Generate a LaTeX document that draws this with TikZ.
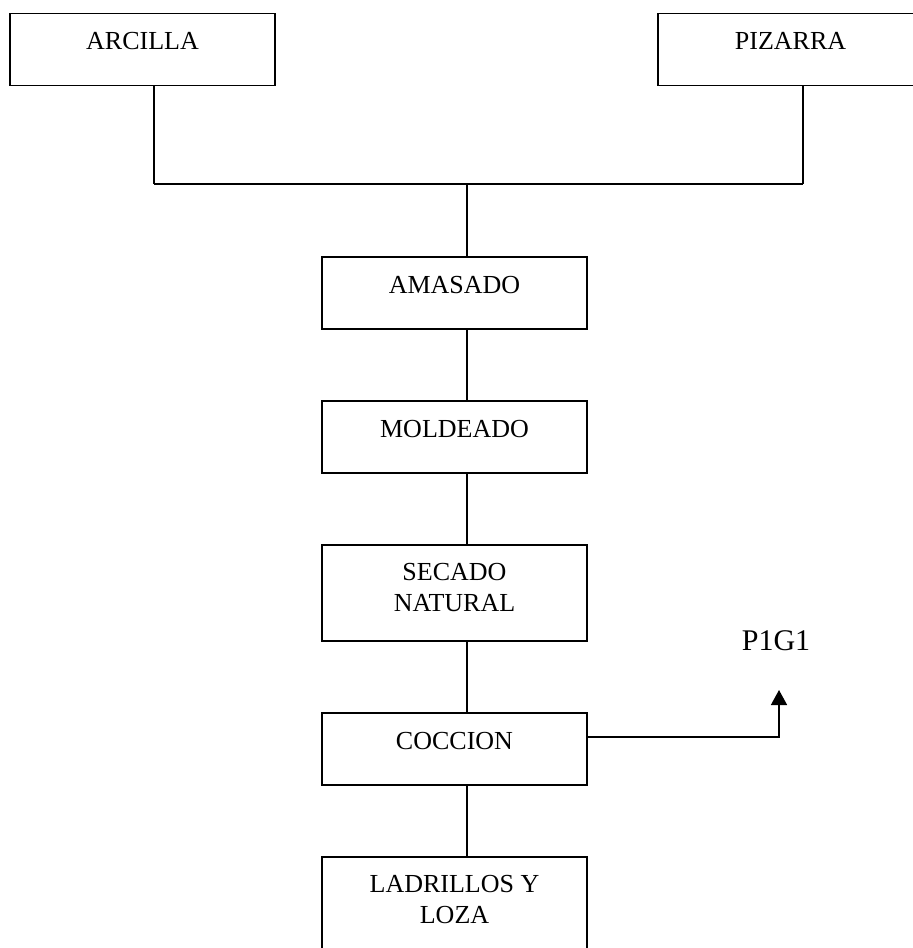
\documentclass[tikz,border=0pt]{standalone}
\usepackage{fontspec}
\setmainfont{Liberation Serif}
\usetikzlibrary{arrows.meta}

\tikzset{
  caja/.style={draw, line width=0.75pt, minimum width=132.5pt, minimum height=36pt,
    inner sep=0pt, font=\fontsize{13}{15.5}\selectfont, text height=8.6pt, text depth=8.4pt},
  caja doble/.style={caja, minimum height=48pt, align=center, text height=24.1pt, text depth=5.9pt},
  linea/.style={line width=0.75pt},
}

\begin{document}
\begin{tikzpicture}[x=0.5pt, y=-0.5pt]
  % Marco de la figura (en pixeles)
  \useasboundingbox (0,0) rectangle (913,948);

  % Eje vertical del proceso y puntos de union
  \coordinate (eje) at (467,0);
  \coordinate (union) at (467,184);
  \coordinate (izq) at (154,184);
  \coordinate (der) at (803,184);
  \coordinate (flecha) at (779,690);

  % Materias primas
  \node[caja] (arcilla) at (142.5,49.5) {ARCILLA};
  \node[caja] (pizarra) at (790.5,49.5) {PIZARRA};

  % Etapas del proceso
  \node[caja] (amasado) at (454.5,293) {AMASADO};
  \node[caja] (moldeado) at (454.5,437) {MOLDEADO};
  \node[caja doble] (secado) at (454.5,593) {SECADO\\NATURAL};
  \node[caja] (coccion) at (454.5,749) {COCCION};
  \node[caja doble] (ladrillos) at (454.5,905) {LADRILLOS Y\\LOZA};

  % Salida lateral
  \node[font=\fontsize{15}{18}\selectfont, text height=10.3pt, text depth=0pt, inner sep=0pt] (p1g1) at (776,640) {P1G1};

  % Union de arcilla y pizarra
  \draw[linea] (arcilla.south -| izq) -- (izq);
  \draw[linea] (pizarra.south -| der) -- (der);
  \draw[line width=1.2pt] (izq) -- (der);
  \draw[linea] (union) -- (amasado.north -| eje);

  % Cadena de etapas
  \draw[linea] (amasado.south -| eje) -- (moldeado.north -| eje);
  \draw[linea] (moldeado.south -| eje) -- (secado.north -| eje);
  \draw[linea] (secado.south -| eje) -- (coccion.north -| eje);
  \draw[linea] (coccion.south -| eje) -- (ladrillos.north -| eje);

  % Flecha hacia P1G1
  \draw[linea, -{Triangle[width=8pt,length=7.5pt]}] ([yshift=6pt]coccion.east) -| (flecha);
\end{tikzpicture}
\end{document}
